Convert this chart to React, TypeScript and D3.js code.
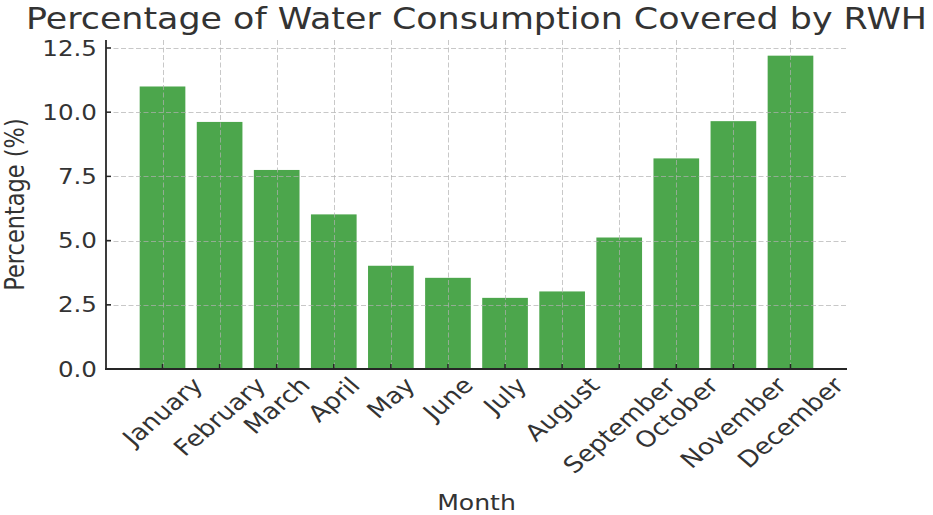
import React, { useEffect, useRef } from 'react';
import * as d3 from 'd3';

const months = ['January', 'February', 'March', 'April', 'May', 'June', 'July', 'August', 'September', 'October', 'November', 'December'];
const percentages = [11.0, 9.62, 7.75, 6.02, 4.02, 3.55, 2.77, 3.02, 5.12, 8.2, 9.65, 12.2];
const yTicks = [0, 2.5, 5, 7.5, 10, 12.5];
const title = 'Percentage of Water Consumption Covered by RWH';
const xLabel = 'Month';
const yLabel = 'Percentage (%)';

const W = 933;
const H = 515;
const M = { left: 106, right: 847, top: 40, bottom: 369 };
const SX = 1.17;
const FONT = "'DejaVu Sans', sans-serif";
const TEXT = '#333333';
const AXIS = '#262626';

export default function App() {
  const ref = useRef<SVGSVGElement>(null);
  useEffect(() => {
    const svg = d3.select(ref.current);
    svg.selectAll('*').remove();
    const x = d3.scaleLinear().domain([-0.99, months.length - 0.01]).range([M.left, M.right]);
    const y = d3.scaleLinear().domain([0, 12.81]).range([M.bottom, M.top]);
    const barW = x(0.4) - x(-0.4);

    svg.append('rect').attr('width', W).attr('height', H).attr('fill', '#fff');

    svg.append('g').selectAll('rect').data(percentages).join('rect')
      .attr('x', (d, i) => x(i - 0.4))
      .attr('y', d => y(d))
      .attr('width', barW)
      .attr('height', d => y(0) - y(d))
      .attr('fill', 'green')
      .attr('fill-opacity', 0.7);

    const grid = svg.append('g').attr('stroke', '#b0b0b0').attr('stroke-opacity', 0.7)
      .attr('stroke-width', 1).attr('stroke-dasharray', '5,2.5');
    grid.selectAll('line.h').data(yTicks).join('line').attr('class', 'h')
      .attr('x1', M.left).attr('x2', M.right)
      .attr('y1', d => Math.round(y(d)) + 0.5).attr('y2', d => Math.round(y(d)) + 0.5);
    grid.selectAll('line.v').data(months).join('line').attr('class', 'v')
      .attr('x1', (d, i) => Math.round(x(i)) + 0.5).attr('x2', (d, i) => Math.round(x(i)) + 0.5)
      .attr('y1', M.top).attr('y2', M.bottom);

    const ax = svg.append('g').attr('stroke', AXIS).attr('stroke-width', 1.8);
    ax.append('line').attr('x1', M.left).attr('x2', M.left).attr('y1', M.top).attr('y2', M.bottom + 0.9);
    ax.append('line').attr('x1', M.left - 0.9).attr('x2', M.right).attr('y1', M.bottom).attr('y2', M.bottom);
    ax.selectAll('line.yt').data(yTicks).join('line').attr('class', 'yt')
      .attr('x1', M.left).attr('x2', M.left + 5)
      .attr('y1', d => y(d)).attr('y2', d => y(d)).attr('stroke-width', 1.5);
    ax.selectAll('line.xt').data(months).join('line').attr('class', 'xt')
      .attr('x1', (d, i) => x(i)).attr('x2', (d, i) => x(i))
      .attr('y1', M.bottom).attr('y2', M.bottom - 5).attr('stroke-width', 1.5);

    const tickF = 21;
    svg.append('g').selectAll('text').data(yTicks).join('text')
      .attr('transform', d => `translate(97,${y(d) + 0.729 * tickF / 2}) scale(${SX},1)`)
      .attr('text-anchor', 'end')
      .attr('font-family', FONT).attr('font-size', tickF).attr('fill', TEXT)
      .text(d => d.toFixed(1));

    const xF = 22.5;
    const xt = svg.append('g');
    const top = 372;
    months.forEach((m, i) => {
      const t = xt.append('text')
        .attr('text-anchor', 'middle')
        .attr('y', 0.346 * xF)
        .attr('font-family', FONT).attr('font-size', xF).attr('fill', TEXT)
        .text(m);
      const w = (t.node() as SVGTextElement).getComputedTextLength();
      const hh = 1.164 * xF;
      const side = (w + hh) / Math.SQRT2;
      t.attr('transform', `translate(${x(i)},${top + side / 2}) scale(${SX},1) rotate(-45)`);
    });

    svg.append('text')
      .attr('transform', `translate(${(M.left + M.right) / 2},28.5) scale(${SX},1)`)
      .attr('text-anchor', 'middle')
      .attr('font-family', FONT).attr('font-size', 29.8).attr('fill', TEXT)
      .text(title);

    svg.append('text')
      .attr('transform', `translate(${(M.left + M.right) / 2},510) scale(${SX},1)`)
      .attr('text-anchor', 'middle')
      .attr('font-family', FONT).attr('font-size', 21.5).attr('fill', TEXT)
      .text(xLabel);

    svg.append('text')
      .attr('transform', `translate(24,${(M.top + M.bottom) / 2}) scale(${SX},1) rotate(-90)`)
      .attr('text-anchor', 'middle')
      .attr('font-family', FONT).attr('font-size', 22.5).attr('fill', TEXT)
      .text(yLabel);
  }, []);
  return <svg ref={ref} width={W} height={H} style={{ position: 'absolute', left: 0, top: 0, display: 'block' }} />;
}
